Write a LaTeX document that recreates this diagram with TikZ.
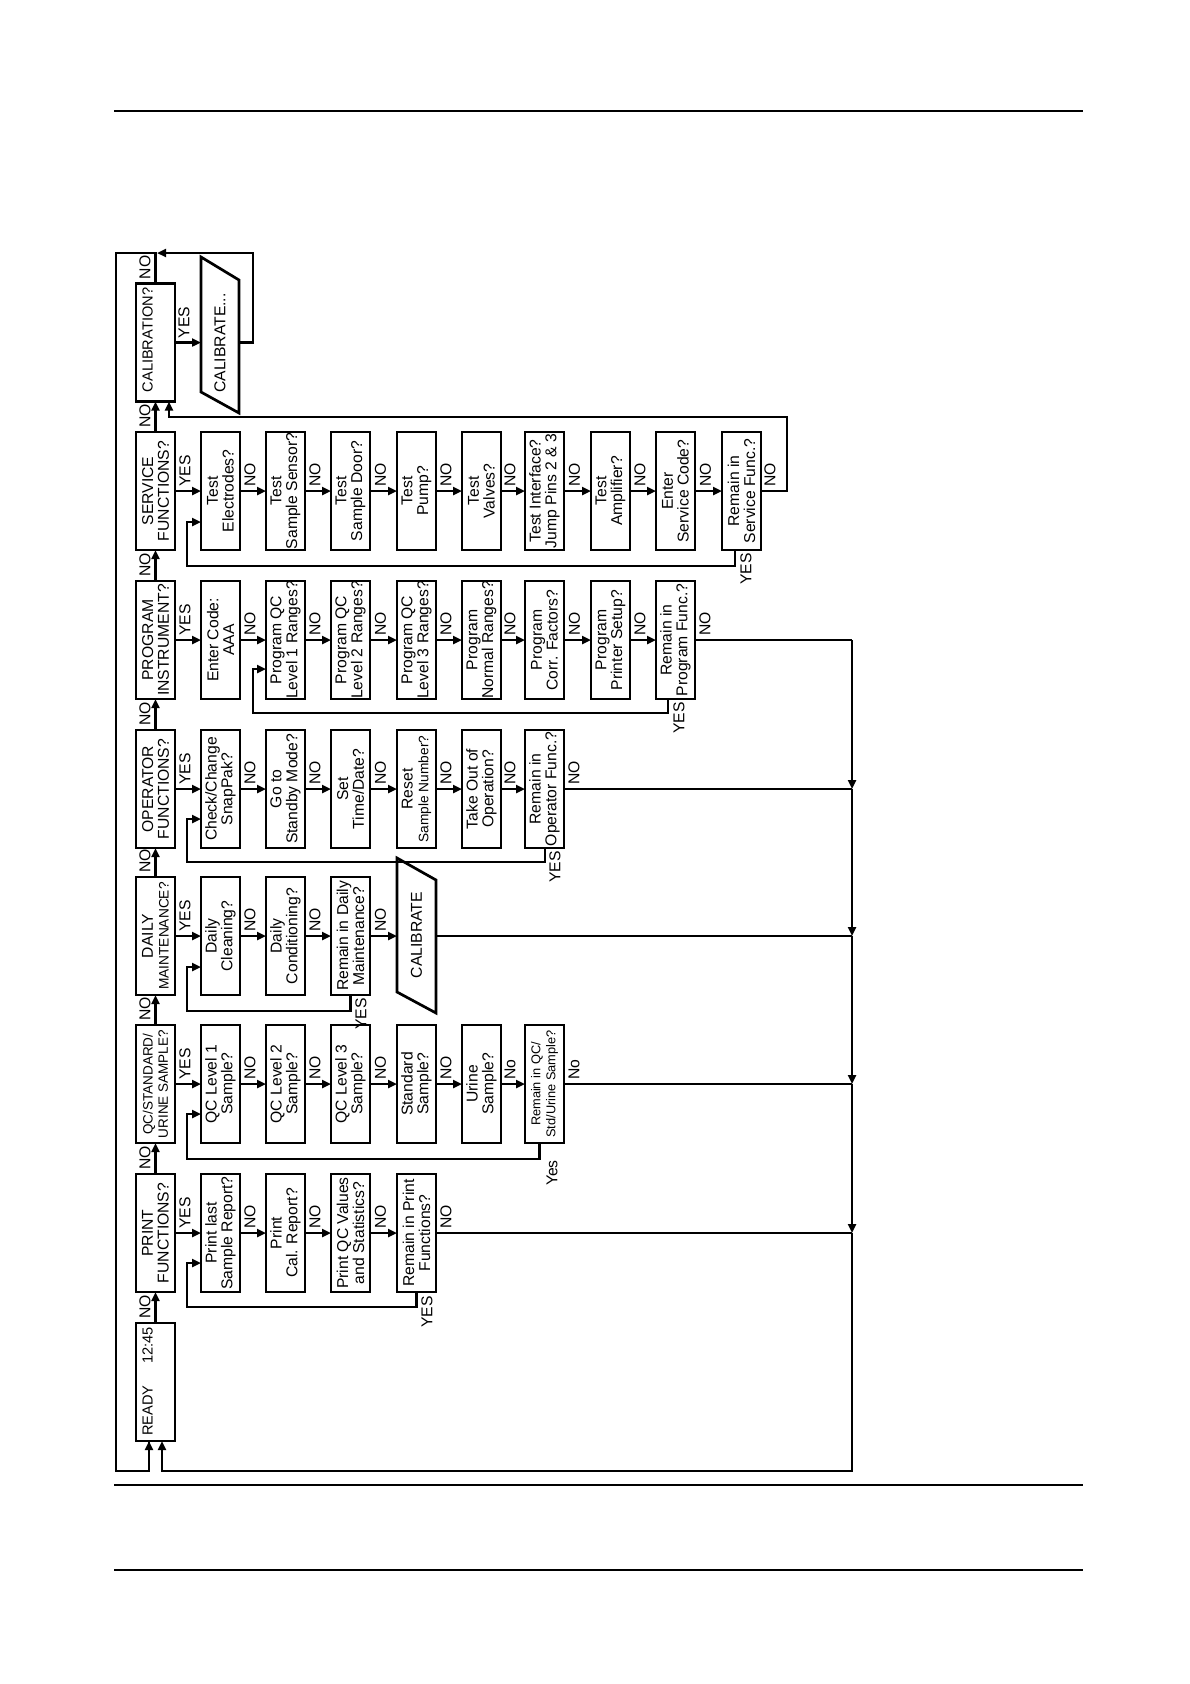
\documentclass[tikz,border=0pt]{standalone}
\usepackage{fontspec}
\setmainfont{Liberation Sans}
\usetikzlibrary{arrows.meta,calc}
\newcommand\smf{\fontsize{13.7}{15}\selectfont}
\newcommand\nmf{\fontsize{15.7}{15.8}\selectfont}
\newcommand\bx[4]{\node[bx] (#1) at (#2,#3) {}; \node[tx] (#1-t) at (#1.center) {#4};}
\newcommand\cn[3]{\draw[ar] (#1.east) -- (#2.west); \node[lb,anchor=west] (#1-#2-l) at ($(#1.east)!0.5!(#2.west)+(-3,-4)$) {#3};}
\newcommand\up[2]{\draw[ar] (#1.north) -- (#2.south); \node[lb,anchor=west] (#1-#2-l) at ($(#1.north)+(-10.5,-4)$) {NO};}
\begin{document}
\begin{tikzpicture}[x=1pt,y=-1pt,
  bx/.style={draw, line width=2.7pt, minimum width=39pt, minimum height=118pt, inner sep=0pt, outer sep=0pt},
  tx/.style={rotate=90, align=center, inner sep=0pt, font=\nmf},
  lb/.style={rotate=90, inner sep=0pt, font=\nmf},
  ln/.style={line width=2.3pt},
  ar/.style={line width=2.3pt, -{Triangle[length=9pt,width=8pt]}},
  pg/.style={draw, line width=2.7pt, line join=miter}]
\fill[white] (0,0) rectangle (1190,1684);
\useasboundingbox (0,0) rectangle (1190,1684);

% page rules
\draw[line width=1.3pt] (114,111) -- (1083,111);
\draw[line width=1.3pt] (114,1485) -- (1083,1485);
\draw[line width=1.3pt] (114,1570) -- (1083,1570);

% main column
\node[bx] (cal) at (155.5,342.5) {};
\node[tx,font=\fontsize{14.6}{15.7}\selectfont] (cal-t) at (147.5,340) {CALIBRATION?};
\bx{serv}{155.5}{491}{SERVICE\\FUNCTIONS?}
\bx{prog}{155.5}{640}{PROGRAM\\INSTRUMENT?}
\bx{oper}{155.5}{789}{OPERATOR\\FUNCTIONS?}
\bx{daily}{155.5}{936}{DAILY\\{\smf MAINTENANCE?}}
\node[bx] (qc) at (155.5,1084) {};
\node[tx,font=\fontsize{13.5}{15.2}\selectfont] (qc-t) at (qc.center) {QC/STANDARD/\\URINE SAMPLE?};
\bx{print}{155.5}{1233}{PRINT\\FUNCTIONS?}
\node[bx] (ready) at (155.5,1382) {};
\node[lb,anchor=west,font=\fontsize{14.6}{15.7}\selectfont] (ready-t) at (147.5,1436) {READY\hspace{22pt}12:45};

\up{ready}{print}
\up{print}{qc}
\up{qc}{daily}
\up{daily}{oper}
\up{oper}{prog}
\up{prog}{serv}
\up{serv}{cal}

% calibration branch
\coordinate (cb-w) at (201,342.5);
\coordinate (cb-e) at (239,342.5);
\draw[pg] (201,257) -- (239,280) -- (239,413) -- (201,392) -- cycle;
\node[lb] (cb-t) at (220,343) {CALIBRATE...};
\draw[ar] (cal.east) -- (cb-w);
\node[lb,anchor=west] (cal-yes) at ($(cal.east)!0.5!(cb-w)+(-4,-4)$) {YES};
\draw[ln] (cal.north) |- (116,253) -- (116,1471) -| ([xshift=-6.5pt]ready.south);
\draw[ar] ([xshift=-6.5pt]ready.south |- 0,1460) -- ([xshift=-6.5pt]ready.south);
\draw[ar] (cb-e) -- (253,342.5) -- (253,253) -- (157,253);
\node[lb,anchor=west] (cal-no) at ($(cal.north)+(-10.5,-4)$) {NO};

% service row
\bx{s1}{220.5}{491}{Test\\Electrodes?}
\bx{s2}{285.5}{491}{Test\\Sample Sensor?}
\bx{s3}{350.5}{491}{Test\\Sample Door?}
\bx{s4}{416.5}{491}{Test\\Pump?}
\bx{s5}{481.5}{491}{Test\\Valves?}
\bx{s6}{544.5}{491}{Test Interface?\\Jump Pins 2 \& 3}
\bx{s7}{610.5}{491}{Test\\Amplifier?}
\bx{s8}{675.5}{491}{Enter\\Service Code?}
\bx{s9}{741.5}{491}{Remain in\\Service Func.?}
\cn{serv}{s1}{YES}
\cn{s1}{s2}{NO}\cn{s2}{s3}{NO}\cn{s3}{s4}{NO}\cn{s4}{s5}{NO}
\cn{s5}{s6}{NO}\cn{s6}{s7}{NO}\cn{s7}{s8}{NO}\cn{s8}{s9}{NO}
\draw[ar] (s9.east) -- (787,491) -- (787,417) -| ([xshift=13.5pt]cal.south);
\node[lb,anchor=west] (s9-no) at ($(s9.east)+(9,-4)$) {NO};
\draw[ar] ([xshift=-6.5pt]s9.south) |- (187,566) |- ([yshift=-31pt]s1.west);
\node[lb,anchor=east] (s9-yes) at (746,553) {YES};

% program row
\bx{p1}{220.5}{640}{Enter Code:\\AAA}
\bx{p2}{285.5}{640}{Program QC\\Level 1 Ranges?}
\bx{p3}{350.5}{640}{Program QC\\Level 2 Ranges?}
\bx{p4}{416.5}{640}{Program QC\\Level 3 Ranges?}
\bx{p5}{481.5}{640}{Program\\Normal Ranges?}
\bx{p6}{544.5}{640}{Program\\Corr. Factors?}
\bx{p7}{610.5}{640}{Program\\Printer Setup?}
\bx{p8}{675.5}{640}{Remain in\\Program Func.?}
\cn{prog}{p1}{YES}
\cn{p1}{p2}{NO}\cn{p2}{p3}{NO}\cn{p3}{p4}{NO}\cn{p4}{p5}{NO}
\cn{p5}{p6}{NO}\cn{p6}{p7}{NO}\cn{p7}{p8}{NO}
\draw[ar] ([xshift=-7.5pt]p8.south) |- (253,713) |- ([yshift=-29pt]p2.west);
\node[lb,anchor=east] (p8-yes) at (679,702) {YES};
\node[lb,anchor=west] (p8-no) at ($(p8.east)+(10,-4)$) {NO};

% operator row
\bx{o1}{220.5}{789}{Check/Change\\SnapPak?}
\bx{o2}{285.5}{789}{Go to\\Standby Mode?}
\bx{o3}{350.5}{789}{Set\\Time/Date?}
\bx{o4}{416.5}{789}{Reset\\{\smf Sample Number?}}
\bx{o5}{481.5}{789}{Take Out of\\Operation?}
\bx{o6}{544.5}{789}{Remain in\\Operator Func.?}
\cn{oper}{o1}{YES}
\cn{o1}{o2}{NO}\cn{o2}{o3}{NO}\cn{o3}{o4}{NO}\cn{o4}{o5}{NO}\cn{o5}{o6}{NO}
\draw[ar] ([xshift=0.5pt]o6.south) |- (187,862) |- ([yshift=-30pt]o1.west);
\node[lb,anchor=east] (o6-yes) at (555,851) {YES};
\node[lb,anchor=west] (o6-no) at ($(o6.east)+(10,-4)$) {NO};

% daily row
\bx{d1}{220.5}{936}{Daily\\Cleaning?}
\bx{d2}{285.5}{936}{Daily\\Conditioning?}
\bx{d3}{350.5}{936}{Remain in Daily\\Maintenance?}
\coordinate (cd-w) at (397,936);
\coordinate (cd-e) at (436,936);
\draw[pg] (397,858) -- (436,880) -- (436,1013) -- (397,992) -- cycle;
\node[lb] (cd-t) at (416.5,935) {CALIBRATE};
\cn{daily}{d1}{YES}
\cn{d1}{d2}{NO}\cn{d2}{d3}{NO}
\draw[ar] (d3.east) -- (cd-w);
\node[lb,anchor=west] (d3-no) at ($(d3.east)!0.5!(cd-w)+(-3,-4)$) {NO};
\draw[ar] (d3.south) |- (187,1011) |- ([yshift=-31pt]d1.west);
\node[lb,anchor=east] (d3-yes) at (361,998) {YES};

% qc row
\bx{q1}{220.5}{1084}{QC Level 1\\Sample?}
\bx{q2}{285.5}{1084}{QC Level 2\\Sample?}
\bx{q3}{350.5}{1084}{QC Level 3\\Sample?}
\bx{q4}{416.5}{1084}{Standard\\Sample?}
\bx{q5}{481.5}{1084}{Urine\\Sample?}
\node[bx] (q6) at (544.5,1084) {};
\node[tx,font=\fontsize{12.8}{15}\selectfont] (q6-t) at (q6.center) {Remain in QC/\\Std/Urine Sample?};
\cn{qc}{q1}{YES}
\cn{q1}{q2}{NO}\cn{q2}{q3}{NO}\cn{q3}{q4}{NO}\cn{q4}{q5}{NO}\cn{q5}{q6}{No}
\draw[ar] ([xshift=-5pt]q6.south) |- (187,1159) |- ([yshift=-30pt]q1.west);
\node[lb,anchor=east] (q6-yes) at (552,1160) {Yes};
\node[lb,anchor=west] (q6-no) at ($(q6.east)+(10,-4)$) {No};

% print row
\bx{r1}{220.5}{1233}{Print last\\Sample Report?}
\bx{r2}{285.5}{1233}{Print\\Cal. Report?}
\bx{r3}{350.5}{1233}{Print QC Values\\and Statistics?}
\bx{r4}{416.5}{1233}{Remain in Print\\Functions?}
\cn{print}{r1}{YES}
\cn{r1}{r2}{NO}\cn{r2}{r3}{NO}\cn{r3}{r4}{NO}
\draw[ar] (r4.south) |- (187,1307) |- ([yshift=-30pt]r1.west);
\node[lb,anchor=east] (r4-yes) at (427,1296) {YES};
\node[lb,anchor=west] (r4-no) at ($(r4.east)+(10,-4)$) {NO};

% collecting line on the right
\coordinate (j1) at (852,640);
\coordinate (j2) at (852,789);
\coordinate (j3) at (852,936);
\coordinate (j4) at (852,1084);
\coordinate (j5) at (852,1233);
\draw[ln] (p8.east) -- (j1);
\draw[ar] (j1) -- (j2);
\draw[ln] (o6.east) -- (j2);
\draw[ar] (j2) -- (j3);
\draw[ln] (cd-e) -- (j3);
\draw[ar] (j3) -- (j4);
\draw[ln] (q6.east) -- (j4);
\draw[ar] (j4) -- (j5);
\draw[ln] (r4.east) -- (j5);
\draw[ar] (j5) -- (852,1471) -| ([xshift=6.5pt]ready.south);
\end{tikzpicture}
\end{document}
